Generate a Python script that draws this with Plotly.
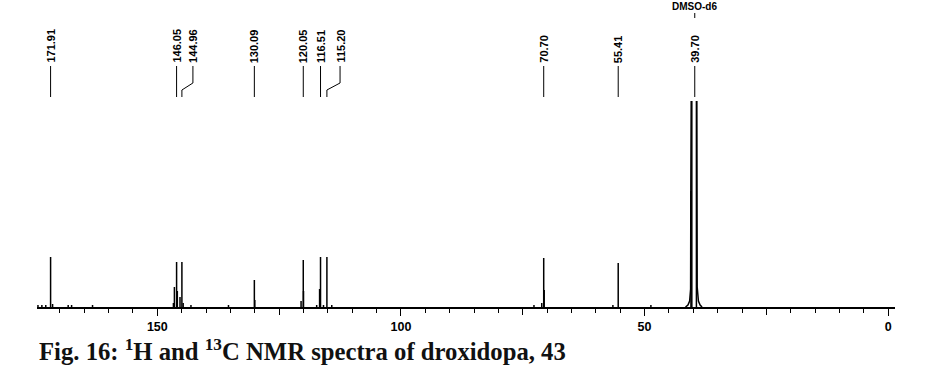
import plotly.graph_objects as go

# ---- data (ppm, relative intensity) ----
peak_ppm = [171.91, 146.05, 144.96, 130.09, 120.05, 116.51, 115.20, 70.70, 55.41]
peak_int = [50, 45, 45, 27, 47, 50, 50, 49, 44]

shoulder_ppm = [146.5, 145.9, 145.35, 130.0, 120.0, 120.5, 116.7, 70.6]
shoulder_int = [20, 16, 10, 7, 16, 6, 18, 17]

noise_ppm = [174.5, 173.7, 172.9, 171.5, 168.3, 167.6, 163.3, 146.7, 144.7, 143.1,
             135.4, 117.3, 115.9, 114.2, 72.7, 71.1, 56.5, 48.7]
noise_int = [2, 2, 2, 3, 2, 2, 2, 4, 4, 2, 2, 2, 2, 2, 2, 4, 2, 2]

dmso_ppm = [41.6, 41.1, 40.75, 40.55, 40.50, 40.40, 39.30, 39.20, 38.95, 38.60, 38.2]
dmso_int = [0, 2, 6, 18, 120, 240, 240, 20, 6, 2, 0]
dmso_line_ppm = [40.30, 40.48, 39.36]
dmso_line_int = [240, 116, 240]

label_text = ["171.91", "146.05", "144.96", "130.09", "120.05", "116.51",
              "115.20", "70.70", "55.41", "39.70"]
label_peak = [171.91, 146.05, 144.96, 130.09, 120.05, 116.51, 115.20, 70.70, 55.41, 39.70]
label_pos = [171.91, 146.05, 142.7, 130.09, 120.05, 116.51, 112.5, 70.70, 55.41, 39.70]

solvent_label = "DMSO-d6"
solvent_ppm = 39.70

caption = "Fig. 16: <sup>1</sup>H and <sup>13</sup>C NMR spectra of droxidopa, 43"

# ---- layout geometry (pixels) ----
W, H = 940, 382
ML, MR, MT, MB = 37, 45, 101, 75
PH = H - MT - MB
X_RANGE = [174.7, -1.4]


def py(ypx):
    """pixel row -> paper y"""
    return (H - MB - ypx) / PH


def sticks(xs, ys):
    X, Y = [], []
    for x, y in zip(xs, ys):
        X += [x, x, None]
        Y += [0, y, None]
    return X, Y


fig = go.Figure()
for xs, ys in [(peak_ppm, peak_int), (shoulder_ppm, shoulder_int),
               (noise_ppm, noise_int), (dmso_line_ppm, dmso_line_int)]:
    X, Y = sticks(xs, ys)
    fig.add_trace(go.Scatter(x=X, y=Y, mode="lines",
                             line=dict(color="black", width=1.5),
                             hoverinfo="skip", showlegend=False))
fig.add_trace(go.Scatter(x=dmso_ppm, y=dmso_int, mode="lines",
                         line=dict(color="black", width=1.5),
                         hoverinfo="skip", showlegend=False))
# invisible trace binding the secondary tick axis (25-ppm major ticks)
fig.add_trace(go.Scatter(x=[X_RANGE[0]], y=[0], xaxis="x2", mode="markers",
                         marker=dict(size=0.1, opacity=0), hoverinfo="skip",
                         showlegend=False))

lab_font = dict(family="Liberation Sans, Arial, sans-serif", size=11, color="black")
shapes = []
annotations = []
y_text_bot, y_kink1, y_kink2, y_end = 66, 83, 90, 97
for t, pk, lp in zip(label_text, label_peak, label_pos):
    annotations.append(dict(x=lp, xref="x", y=py(y_text_bot - 1), yref="paper",
                            text="<b>%s</b>" % t, textangle=-90, showarrow=False,
                            xanchor="center", yanchor="bottom", font=lab_font))
    if abs(lp - pk) < 0.5:
        shapes.append(dict(type="line", xref="x", yref="paper", x0=pk, x1=pk,
                           y0=py(y_text_bot), y1=py(y_end),
                           line=dict(color="black", width=1)))
    else:
        path = "M %f,%f L %f,%f L %f,%f L %f,%f" % (
            lp, py(y_text_bot), lp, py(y_kink1), pk, py(y_kink2), pk, py(y_end))
        shapes.append(dict(type="path", xref="x", yref="paper", path=path,
                           line=dict(color="black", width=1)))

annotations.append(dict(x=solvent_ppm, xref="x", y=py(6), yref="paper",
                        text="<b>%s</b>" % solvent_label, showarrow=False,
                        xanchor="center", yanchor="middle",
                        font=dict(family="Liberation Sans, Arial, sans-serif", size=10, color="black")))
shapes.append(dict(type="line", xref="x", yref="paper", x0=solvent_ppm, x1=solvent_ppm,
                   y0=py(13), y1=py(18), line=dict(color="black", width=1)))

annotations.append(dict(x=0, xref="paper", y=py(350), yref="paper", text="<b>%s</b>" % caption,
                        showarrow=False, xanchor="left", yanchor="middle",
                        font=dict(family="Liberation Serif, Times New Roman, serif", size=24.7, color="#111")))

fig.update_layout(
    width=W, height=H, margin=dict(l=ML, r=MR, t=MT, b=MB),
    paper_bgcolor="white", plot_bgcolor="white",
    shapes=shapes, annotations=annotations,
    xaxis=dict(range=X_RANGE, showgrid=False, zeroline=False,
               showline=True, linecolor="black", linewidth=1.5,
               ticks="outside", ticklen=7, tickwidth=1, tickcolor="black",
               tickmode="linear", tick0=0, dtick=50,
               tickprefix="<b>", ticksuffix="</b>",
               tickfont=dict(family="Liberation Sans, Arial, sans-serif", size=12.5, color="black"),
               minor=dict(ticks="outside", ticklen=4, tickwidth=1, tickcolor="black",
                          tickmode="linear", tick0=0, dtick=5)),
    xaxis2=dict(range=X_RANGE, overlaying="x", side="bottom", anchor="y",
                showgrid=False, zeroline=False, showline=False,
                ticks="outside", ticklen=7, tickwidth=1, tickcolor="black",
                tickmode="linear", tick0=25, dtick=50, showticklabels=False),
    yaxis=dict(range=[0, PH], visible=False, showgrid=False, zeroline=False),
)
fig.write_html("out.html")
